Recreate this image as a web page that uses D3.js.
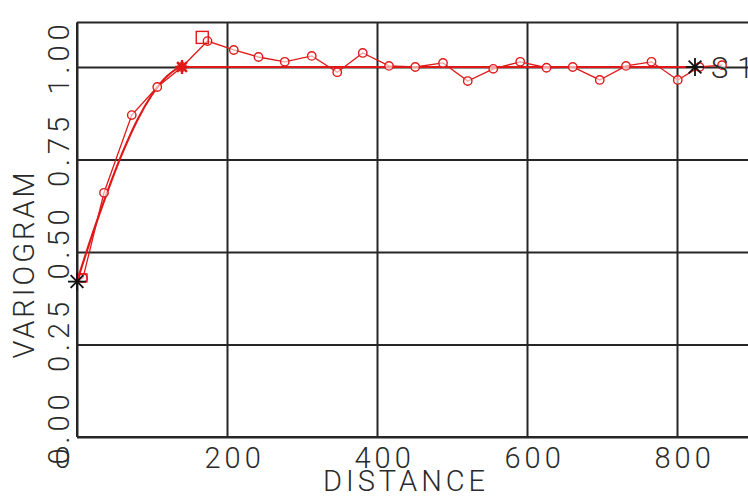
<!DOCTYPE html>
<html>
<head>
<meta charset="utf-8">
<script src="https://cdn.jsdelivr.net/npm/d3@7"></script>
<style>
  html, body { margin: 0; padding: 0; background: #fff; }
  svg { display: block; }
  text { font-family: Roboto, "DejaVu Sans", sans-serif; font-weight: 300; fill: #2a2a2a; }
</style>
</head>
<body>
<svg id="chart" width="748" height="497"></svg>
<script>
// Experimental variogram: lag distance and semivariance
const lagDistance = [8, 36, 73, 107, 140, 174, 209, 242, 277, 313, 347, 381, 416, 451, 488, 521, 555, 591, 626, 661, 697, 732, 766, 801, 830, 860];
const lagGamma    = [0.43, 0.66, 0.87, 0.946, 1.0, 1.07, 1.046, 1.027, 1.014, 1.03, 0.986, 1.038, 1.003, 1.0, 1.011, 0.962, 0.995, 1.014, 0.998, 1.0, 0.965, 1.003, 1.014, 0.965, 1.0, 1.005];

// Fitted model curve (nugget rising to sill, then flat)
const modelDistance = [0, 20, 40, 60, 80, 100, 120, 140, 824];
const modelGamma    = [0.42, 0.545, 0.66, 0.765, 0.855, 0.925, 0.975, 1.0, 1.0];

// Special markers
const squareDistance = [8, 167];
const squareGamma    = [0.43, 1.08];
const rangeDistance = 140, rangeGamma = 1.0;          // red asterisk at the range
const endDistance = [0, 824], endGamma = [0.42, 1.0]; // black asterisks
const seriesLabel = "S1";

// Axis ticks
const xTicks = [0, 200, 400, 600, 800];
const xTickLabels = ["0", "200", "400", "600", "800"];
const yTicks = [0, 0.25, 0.5, 0.75, 1.0];
const yTickLabels = ["0.00", "0.25", "0.50", "0.75", "1.00"];

const svg = d3.select("#chart");
const left = 77, bottom = 437, pxPerUnitY = 370;
const x = d3.scaleLinear().domain([0, 900]).range([left, left + 675]);
const y = d3.scaleLinear().domain([0, 1.12]).range([bottom, bottom - 1.12 * pxPerUnitY]);

const red = "#e01818";
const gridColor = "#262626";
const fontSize = 29;

// Gridlines with tick labels
const xAxis = d3.axisBottom(x).tickValues(xTicks).tickSize(-(y(0) - y(1.12))).tickFormat((d, i) => xTickLabels[i]);
const gx = svg.append("g").attr("transform", `translate(0,${y(0)})`).call(xAxis);
gx.select(".domain").remove();
gx.selectAll("line").attr("stroke", gridColor).attr("stroke-width", 2);
gx.selectAll("text")
  .attr("text-anchor", "start")
  .attr("x", -23).attr("y", 31).attr("dy", 0)
  .style("font-size", fontSize + "px").style("letter-spacing", "4px")
  .attr("fill", "#2a2a2a");

const yAxis = d3.axisLeft(y).tickValues(yTicks).tickSize(-(x(900) - x(0))).tickFormat((d, i) => yTickLabels[i]);
const gy = svg.append("g").attr("transform", `translate(${x(0)},0)`).call(yAxis);
gy.select(".domain").remove();
gy.selectAll("line").attr("stroke", gridColor).attr("stroke-width", 2);
gy.selectAll("text")
  .attr("text-anchor", "start")
  .attr("x", null).attr("dy", 0)
  .attr("transform", "translate(-8,27) rotate(-90)")
  .style("font-size", fontSize + "px").style("letter-spacing", "5px")
  .attr("fill", "#2a2a2a");

// Frame: left, top, bottom
svg.append("line").attr("x1", x(0)).attr("x2", x(0)).attr("y1", y(0)).attr("y2", y(1.12))
  .attr("stroke", gridColor).attr("stroke-width", 2);
svg.append("line").attr("x1", x(0)).attr("x2", x(900)).attr("y1", y(1.12)).attr("y2", y(1.12))
  .attr("stroke", gridColor).attr("stroke-width", 2);
svg.append("line").attr("x1", x(0)).attr("x2", x(900)).attr("y1", y(0)).attr("y2", y(0))
  .attr("stroke", gridColor).attr("stroke-width", 2);

// Axis titles
svg.append("text").attr("x", 406).attr("y", 491).attr("text-anchor", "middle")
  .style("font-size", fontSize + "px").style("letter-spacing", "4px").text("DISTANCE");
svg.append("text").attr("transform", "translate(34,264) rotate(-90)").attr("text-anchor", "middle")
  .style("font-size", fontSize + "px").style("letter-spacing", "3px").text("VARIOGRAM");

// Model curve
const modelPts = modelDistance.map((d, i) => [d, modelGamma[i]]);
svg.append("path")
  .attr("d", d3.line().x(d => x(d[0])).y(d => y(d[1])).curve(d3.curveMonotoneX)(modelPts))
  .attr("fill", "none").attr("stroke", red).attr("stroke-width", 2.2);

// Experimental variogram
const lagPts = lagDistance.map((d, i) => [d, lagGamma[i]]);
svg.append("path")
  .attr("d", d3.line().x(d => x(d[0])).y(d => y(d[1]))([[0, 0.42], ...lagPts]))
  .attr("fill", "none").attr("stroke", red).attr("stroke-width", 1.3);

svg.append("g").selectAll("circle").data(lagPts).join("circle")
  .attr("cx", d => x(d[0])).attr("cy", d => y(d[1])).attr("r", 4.2)
  .attr("fill", "#fff").attr("fill-opacity", 0.6).attr("stroke", red).attr("stroke-width", 1.4);

svg.append("g").selectAll("rect").data(squareDistance.map((d, i) => [d, squareGamma[i]])).join("rect")
  .attr("x", d => x(d[0]) - (d[1] > 1 ? 6 : 4)).attr("y", d => y(d[1]) - (d[1] > 1 ? 6 : 4))
  .attr("width", d => d[1] > 1 ? 12 : 8).attr("height", d => d[1] > 1 ? 12 : 8)
  .attr("fill", "none").attr("stroke", red).attr("stroke-width", 1.4);

// Asterisk marker
function asterisk(g, cx, cy, r, color, w) {
  const a = g.append("g").attr("transform", `translate(${cx},${cy})`);
  [0, 45, 90, 135].forEach(ang => {
    const t = ang * Math.PI / 180;
    a.append("line")
      .attr("x1", -r * Math.cos(t)).attr("y1", -r * Math.sin(t))
      .attr("x2", r * Math.cos(t)).attr("y2", r * Math.sin(t))
      .attr("stroke", color).attr("stroke-width", w);
  });
}
asterisk(svg, x(rangeDistance), y(rangeGamma), 7, red, 2.4);
endDistance.forEach((d, i) => asterisk(svg, x(d), y(endGamma[i]), 9, "#111", 1.8));

svg.append("text").attr("x", x(endDistance[1]) + 16).attr("y", y(endGamma[1]) + 11)
  .style("font-size", fontSize + "px").style("letter-spacing", "9px").text(seriesLabel);
</script>
</body>
</html>
